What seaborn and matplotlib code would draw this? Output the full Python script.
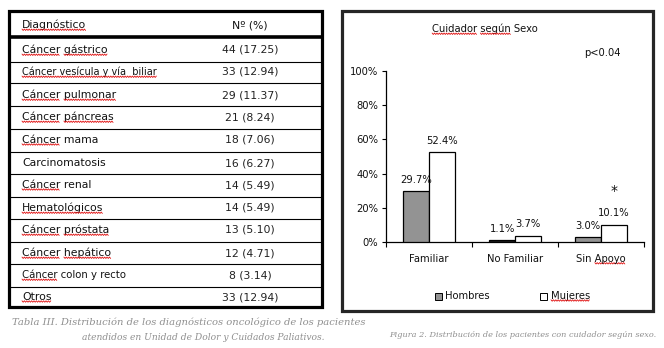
import numpy as np
import pandas as pd
import matplotlib
matplotlib.use("Agg")
import matplotlib.pyplot as plt
from matplotlib.patches import Rectangle
import seaborn as sns

# ---- table data ----
diagnosticos = [
    "Cáncer gástrico", "Cáncer vesícula y vía  biliar", "Cáncer pulmonar",
    "Cáncer páncreas", "Cáncer mama", "Carcinomatosis", "Cáncer renal",
    "Hematológicos", "Cáncer próstata", "Cáncer hepático",
    "Cáncer colon y recto", "Otros",
]
casos = [44, 33, 29, 21, 18, 16, 14, 14, 13, 12, 8, 33]
porcentajes = [17.25, 12.94, 11.37, 8.24, 7.06, 6.27, 5.49, 5.49, 5.10, 4.71, 3.14, 12.94]

# ---- chart data ----
cuidador = ["Familiar", "No Familiar", "Sin Apoyo"]
hombres = [29.7, 1.1, 3.0]
mujeres = [52.4, 3.7, 10.1]
y_ticks = [0, 20, 40, 60, 80, 100]

W, H = 664, 348
sns.set_theme(style="white")
plt.rcParams["font.family"] = ["DejaVu Sans"]
plt.rcParams["text.color"] = "#111111"
plt.rcParams["xtick.color"] = "#111111"
plt.rcParams["ytick.color"] = "#111111"
plt.rcParams["axes.labelcolor"] = "#111111"

fig = plt.figure(figsize=(W / 100, H / 100), dpi=100)
fig.patch.set_facecolor("white")

# background canvas in pixel units (y down)
bg = fig.add_axes([0, 0, 1, 1])
bg.set_xlim(0, W)
bg.set_ylim(H, 0)
bg.axis("off")

# ---------------- table ----------------
tfs = 7.8
bg.add_patch(Rectangle((8.5, 10.5), 313.5, 296.5, fill=False, lw=2.3, ec="black"))
row_lines = [62, 83, 106, 129, 152, 174, 197, 219, 242, 264, 287]
bg.hlines(37, 8.5, 322, color="black", lw=2.6)
bg.hlines(row_lines, 8.5, 322, color="black", lw=0.8)

row_centers = [50, 72, 95, 117, 140, 163, 185, 208, 230, 253, 275, 297]
col_x, num_x = 22, 250
squiggles = []
t = bg.text(col_x, 25, "Diagnóstico", fontsize=tfs, va="center", ha="left")
squiggles.append((t, ["Diagnóstico"]))
bg.text(num_x, 25, "Nº (%)", fontsize=tfs, va="center", ha="center")

marks = {
    "Cáncer gástrico": ["Cáncer", "gástrico"],
    "Cáncer vesícula y vía  biliar": ["Cáncer vesícula y vía  biliar"],
    "Cáncer pulmonar": ["Cáncer", "pulmonar"],
    "Cáncer páncreas": ["Cáncer", "páncreas"],
    "Cáncer mama": ["Cáncer"],
    "Cáncer renal": ["Cáncer"],
    "Hematológicos": ["Hematológicos"],
    "Cáncer próstata": ["Cáncer", "próstata"],
    "Cáncer hepático": ["Cáncer", "hepático"],
    "Cáncer colon y recto": ["Cáncer"],
    "Otros": ["Otros"],
}
# a couple of rows are set in a narrower size
narrow = {"Cáncer vesícula y vía  biliar": 7.0, "Cáncer colon y recto": 7.3}
for name, n, p, yc in zip(diagnosticos, casos, porcentajes, row_centers):
    t = bg.text(col_x, yc, name, fontsize=narrow.get(name, tfs), va="center", ha="left")
    if name in marks:
        squiggles.append((t, marks[name]))
    bg.text(num_x, yc, f"{n} ({p:.2f})", fontsize=tfs, va="center", ha="center",
            color="#222222")

# ---------------- chart panel ----------------
bg.add_patch(Rectangle((341.5, 11), 311, 300, fill=False, lw=2.3, ec="#262626"))

df = pd.DataFrame({
    "Cuidador": cuidador * 2,
    "Porcentaje": hombres + mujeres,
    "Sexo": ["Hombres"] * len(cuidador) + ["Mujeres"] * len(cuidador),
})
colors = {"Hombres": "#939393", "Mujeres": "white"}

ax = fig.add_axes([386 / W, (H - 242) / H, (644 - 386) / W, (242 - 71) / H])
sns.barplot(data=df, x="Cuidador", y="Porcentaje", hue="Sexo", palette=colors,
            edgecolor="black", linewidth=0.9, width=0.6, legend=False, ax=ax,
            errorbar=None, zorder=3)
# the non-family male caregiver bar is printed in solid dark
ax.containers[0][1].set_facecolor("#1c1c1c")

cfs = 7.2
for cont in ax.containers:
    for bar in cont:
        v = bar.get_height()
        ax.annotate(f"{v:.1f}%", (bar.get_x() + bar.get_width() / 2, v),
                    xytext=(0, 4.5), textcoords="offset points",
                    ha="center", va="bottom", fontsize=cfs)

ax.set_ylim(0, 100)
ax.set_xlim(-0.5, 2.5)
ax.set_yticks(y_ticks)
ax.set_yticklabels([f"{v}%" for v in y_ticks])
ax.set_xticks([-0.5, 0.5, 1.5, 2.5])
ax.set_xticklabels([])
ax.set_xticks([0, 1, 2], minor=True)
ax.set_xticklabels(cuidador, minor=True)
ax.tick_params(axis="y", which="major", direction="out", length=3, width=0.8,
               pad=2.5, labelsize=cfs, left=True, color="black")
ax.tick_params(axis="x", which="major", direction="out", length=3.6, width=0.8,
               bottom=True, color="black")
ax.tick_params(axis="x", which="minor", length=0, pad=8.5, labelsize=cfs)
ax.set_xlabel("")
ax.set_ylabel("")
for s in ["top", "right"]:
    ax.spines[s].set_visible(False)
for s in ["left", "bottom"]:
    ax.spines[s].set_color("black")
    ax.spines[s].set_linewidth(0.9)
ax.patch.set_alpha(0)

ax.text(2 + 0.15, 30, "*", ha="center", va="center", fontsize=10)

title = bg.text(485, 29, "Cuidador según Sexo", ha="center", va="center", fontsize=cfs)
squiggles.append((title, ["Cuidador", "según"]))
bg.text(602, 53, "p<0.04", ha="center", va="center", fontsize=cfs)

# legend
bg.add_patch(Rectangle((434.5, 292.5), 7, 7, fc=colors["Hombres"], ec="black", lw=0.7))
bg.text(445, 296, "Hombres", ha="left", va="center", fontsize=cfs)
bg.add_patch(Rectangle((540, 292.5), 7, 7, fc="white", ec="black", lw=0.7))
leg_m = bg.text(551, 296, "Mujeres", ha="left", va="center", fontsize=cfs)
squiggles.append((leg_m, ["Mujeres"]))

# ---------------- captions ----------------
cap_kw = dict(fontfamily="DejaVu Serif", style="italic", color="#8f8f8f")
cap1 = bg.text(12, 322, "Tabla III. Distribución de los diagnósticos oncológico de los pacientes",
               ha="left", va="center", fontsize=6.5, **cap_kw)
cap2 = bg.text(325, 337, "atendidos en Unidad de Dolor y Cuidados Paliativos.",
               ha="right", va="center", fontsize=6.5, **cap_kw)
cap3 = bg.text(656, 335, "Figura 2. Distribución de los pacientes con cuidador según sexo.",
               ha="right", va="center", fontsize=6.5, **cap_kw)

fig.canvas.draw()
renderer = fig.canvas.get_renderer()


def text_width(s, fp):
    tmp = bg.text(0, 0, s, fontproperties=fp)
    w = tmp.get_window_extent(renderer).width
    tmp.remove()
    return w


# fit captions to their printed widths
for t, target in [(cap1, 353), (cap2, 243), (cap3, 268)]:
    w = t.get_window_extent(renderer).width
    t.set_fontsize(t.get_fontsize() * target / w)

# the tick label for "Sin Apoyo" also carries a spell-check mark
fig.canvas.draw()
for lab in ax.get_xticklabels(minor=True):
    if lab.get_text() == "Sin Apoyo":
        squiggles.append((lab, ["Apoyo"]))


def draw_squiggle(t, word):
    fp = t.get_fontproperties()
    full = t.get_text()
    idx = full.find(word)
    if idx < 0:
        return
    bb = t.get_window_extent(renderer)
    x_start = bb.x0 + text_width(full[:idx] + word, fp) - text_width(word, fp)
    x_end = x_start + text_width(word, fp)
    y = H - bb.y0 - 0.5
    xs = np.arange(x_start, x_end + 0.01, 1.2)
    ys = y + np.where(np.arange(len(xs)) % 2 == 0, -0.7, 0.7)
    bg.plot(xs, ys, color="#e01010", lw=0.6, zorder=5)


for t, words in squiggles:
    for wd in words:
        draw_squiggle(t, wd)

fig.savefig("out.png", dpi=100)
